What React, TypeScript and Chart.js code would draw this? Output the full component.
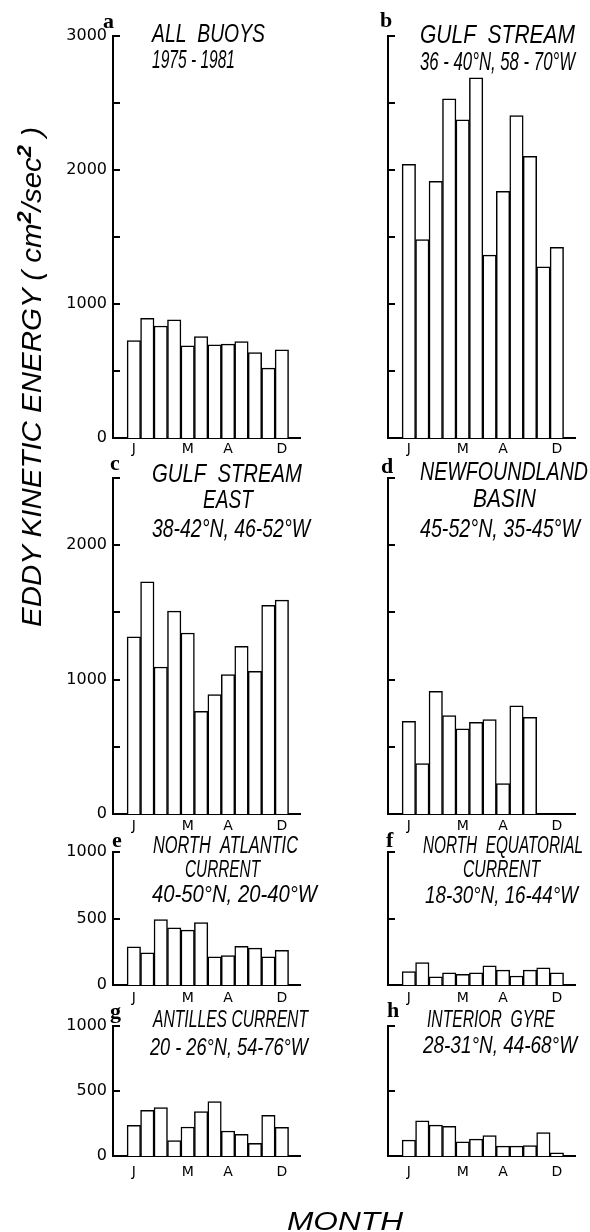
import React, { useEffect, useRef } from 'react';
import { Chart, registerables } from 'chart.js';

Chart.register(...registerables);

// Month initials along the x axis; only a few of them are printed.
const MONTH_INITIALS = ['J', 'F', 'M', 'A', 'M', 'J', 'J', 'A', 'S', 'O', 'N', 'D'];
const MONTH_TICKS = [1, 5, 8, 12];

// Monthly eddy kinetic energy (cm²/sec²) per region, January to December.
const ALL_BUOYS = [727, 893, 836, 881, 687, 757, 695, 700, 720, 638, 521, 658];
const GULF_STREAM = [2042, 1481, 1916, 2531, 2375, 2687, 1365, 1841, 2407, 2102, 1278, 1422];
const GULF_STREAM_EAST = [1318, 1727, 1094, 1509, 1347, 764, 888, 1037, 1248, 1062, 1553, 1591];
const NEWFOUNDLAND_BASIN = [690, 375, 913, 732, 633, 682, 702, 226, 804, 720, null, null];
const NORTH_ATLANTIC_CURRENT = [287, 242, 492, 430, 412, 470, 212, 222, 290, 277, 212, 260];
const NORTH_EQUATORIAL_CURRENT = [100, 168, 62, 92, 80, 92, 145, 112, 68, 112, 130, 92];
const ANTILLES_CURRENT = [236, 351, 372, 118, 223, 341, 418, 192, 167, 97, 313, 221];
const INTERIOR_GYRE = [122, 270, 237, 229, 109, 130, 158, 76, 76, 81, 181, 25];

// Y-axis ranges and label steps per row of panels.
const ROW_MAX = [3000, 2500, 1000, 1000];
const ROW_LABEL_STEP = [1000, 1000, 500, 500];
const Y_TICK_STEP = 500;

// Layout of the grid of panels (page pixels).
const ROWS = [
  { top: 0, padTop: 36, plotH: 402, xAxisH: 22, xPad: 3, titleSize: 25 },
  { top: 452, padTop: 26, plotH: 336, xAxisH: 22, xPad: 4, titleSize: 25 },
  { top: 826, padTop: 26, plotH: 133, xAxisH: 22, xPad: 5, titleSize: 23 },
  { top: 996, padTop: 30, plotH: 130, xAxisH: 28, xPad: 8, titleSize: 23 },
];
const COLS = [
  { left: 50, width: 270, padRight: 20, showLabels: true },
  { left: 325, width: 265, padRight: 15, showLabels: false },
];
const Y_AXIS_W = 63;
const X_MIN = -0.55;
const X_MAX = 13.35;

type TitleLine = { text: string; x: number; y: number; w: number };
type Panel = {
  letter: string;
  letterPos: [number, number];
  values: (number | null)[];
  row: number;
  col: number;
  lines: TitleLine[];
};

const PANELS: Panel[] = [
  {
    letter: 'a', letterPos: [103, 28], values: ALL_BUOYS, row: 0, col: 0,
    lines: [
      { text: 'ALL  BUOYS', x: 152, y: 42, w: 113 },
      { text: '1975 - 1981', x: 152, y: 68, w: 83 },
    ],
  },
  {
    letter: 'b', letterPos: [380, 27], values: GULF_STREAM, row: 0, col: 1,
    lines: [
      { text: 'GULF  STREAM', x: 420, y: 43, w: 155 },
      { text: '36 - 40°N, 58 - 70°W', x: 420, y: 70, w: 155 },
    ],
  },
  {
    letter: 'c', letterPos: [110, 470], values: GULF_STREAM_EAST, row: 1, col: 0,
    lines: [
      { text: 'GULF  STREAM', x: 152, y: 482, w: 150 },
      { text: 'EAST', x: 203, y: 508, w: 50 },
      { text: '38-42°N, 46-52°W', x: 152, y: 537, w: 158 },
    ],
  },
  {
    letter: 'd', letterPos: [381, 473], values: NEWFOUNDLAND_BASIN, row: 1, col: 1,
    lines: [
      { text: 'NEWFOUNDLAND', x: 420, y: 480, w: 168 },
      { text: 'BASIN', x: 473, y: 507, w: 63 },
      { text: '45-52°N, 35-45°W', x: 420, y: 537, w: 160 },
    ],
  },
  {
    letter: 'e', letterPos: [112, 847], values: NORTH_ATLANTIC_CURRENT, row: 2, col: 0,
    lines: [
      { text: 'NORTH  ATLANTIC', x: 153, y: 853, w: 145 },
      { text: 'CURRENT', x: 185, y: 877, w: 75 },
      { text: '40-50°N, 20-40°W', x: 152, y: 902, w: 165 },
    ],
  },
  {
    letter: 'f', letterPos: [386, 847], values: NORTH_EQUATORIAL_CURRENT, row: 2, col: 1,
    lines: [
      { text: 'NORTH  EQUATORIAL', x: 423, y: 853, w: 160 },
      { text: 'CURRENT', x: 463, y: 877, w: 77 },
      { text: '18-30°N, 16-44°W', x: 425, y: 903, w: 153 },
    ],
  },
  {
    letter: 'g', letterPos: [110, 1018], values: ANTILLES_CURRENT, row: 3, col: 0,
    lines: [
      { text: 'ANTILLES CURRENT', x: 153, y: 1027, w: 155 },
      { text: '20 - 26°N, 54-76°W', x: 150, y: 1055, w: 158 },
    ],
  },
  {
    letter: 'h', letterPos: [387, 1017], values: INTERIOR_GYRE, row: 3, col: 1,
    lines: [
      { text: 'INTERIOR  GYRE', x: 427, y: 1027, w: 128 },
      { text: '28-31°N, 44-68°W', x: 423, y: 1053, w: 154 },
    ],
  },
];

function PanelChart({ panel }: { panel: Panel }) {
  const ref = useRef<HTMLCanvasElement | null>(null);
  const row = ROWS[panel.row];
  const col = COLS[panel.col];
  const height = row.padTop + row.plotH + row.xAxisH;

  useEffect(() => {
    if (!ref.current) return;
    const yMax = ROW_MAX[panel.row];
    const labelStep = ROW_LABEL_STEP[panel.row];

    // Short inward tick marks on the y axis.
    const tickMarks = {
      id: 'tickMarks',
      afterDraw(chart: any) {
        const ys = chart.scales.y;
        const ctx = chart.ctx;
        const x0 = chart.chartArea.left;
        ctx.save();
        ctx.strokeStyle = '#000';
        ctx.lineWidth = 2;
        ys.ticks.forEach((t: any) => {
          if (t.value === 0) return;
          const py = Math.round(ys.getPixelForValue(t.value));
          ctx.beginPath();
          ctx.moveTo(x0 - 1, py);
          ctx.lineTo(x0 + 7, py);
          ctx.stroke();
        });
        ctx.restore();
      },
    };

    // Panel letter and the region name lines.
    const titles = {
      id: 'panelTitles',
      afterDraw(chart: any) {
        const ctx = chart.ctx;
        ctx.save();
        ctx.fillStyle = '#000';
        ctx.textBaseline = 'alphabetic';
        ctx.textAlign = 'left';
        ctx.font = 'bold 22px "Liberation Serif"';
        ctx.fillText(panel.letter, panel.letterPos[0] - col.left, panel.letterPos[1] - row.top);
        ctx.font = `italic ${row.titleSize}px "Liberation Sans"`;
        panel.lines.forEach((ln) => {
          const natural = ctx.measureText(ln.text).width;
          ctx.save();
          ctx.translate(ln.x - col.left, ln.y - row.top);
          ctx.scale(ln.w / natural, 1);
          ctx.fillText(ln.text, 0, 0);
          ctx.restore();
        });
        ctx.restore();
      },
    };

    const chart = new Chart(ref.current, {
      type: 'bar',
      data: {
        datasets: [
          {
            data: panel.values.map((v, i) => ({ x: i + 1, y: v })) as any,
            backgroundColor: '#ffffff',
            borderColor: '#000000',
            borderWidth: 1.5,
            borderSkipped: 'start',
            barPercentage: 1,
            categoryPercentage: 1,
          },
        ],
      },
      options: {
        animation: false,
        responsive: false,
        maintainAspectRatio: false,
        events: [],
        layout: { padding: { top: row.padTop, right: col.padRight, left: 0, bottom: 0 } },
        plugins: {
          legend: { display: false },
          tooltip: { enabled: false },
          title: { display: false },
        },
        scales: {
          x: {
            type: 'linear',
            min: X_MIN,
            max: X_MAX,
            offset: false,
            z: 1,
            grid: { display: false, drawTicks: false },
            border: { display: true, color: '#000', width: 2 },
            afterBuildTicks: (s: any) => {
              s.ticks = MONTH_TICKS.map((v) => ({ value: v }));
            },
            afterFit: (s: any) => {
              s.height = row.xAxisH;
            },
            ticks: {
              autoSkip: false,
              maxRotation: 0,
              padding: row.xPad,
              color: '#000',
              font: { family: 'DejaVu Sans', size: 14 },
              callback: (v: any) => MONTH_INITIALS[Number(v) - 1] ?? '',
            },
          },
          y: {
            type: 'linear',
            min: 0,
            max: yMax,
            z: 1,
            grid: { display: false, drawTicks: false },
            border: { display: true, color: '#000', width: 2 },
            afterFit: (s: any) => {
              s.width = Y_AXIS_W;
            },
            ticks: {
              stepSize: Y_TICK_STEP,
              padding: 6,
              color: '#000',
              font: { family: 'DejaVu Sans', size: 16 },
              callback: (v: any) =>
                col.showLabels && Number(v) % labelStep === 0 ? String(v) : '',
            },
          },
        },
      } as any,
      plugins: [tickMarks, titles],
    });
    return () => chart.destroy();
  }, [panel]);

  return (
    <canvas
      ref={ref}
      width={col.width}
      height={height}
      style={{
        position: 'absolute',
        left: col.left,
        top: row.top,
        width: col.width,
        height,
      }}
    />
  );
}

export default function App() {
  return (
    <div
      style={{
        position: 'absolute',
        left: 0,
        top: 0,
        width: 590,
        height: 1232,
        background: '#fff',
        overflow: 'hidden',
      }}
    >
      {PANELS.map((p) => (
        <PanelChart key={p.letter} panel={p} />
      ))}
      <svg
        width={590}
        height={1232}
        style={{ position: 'absolute', left: 0, top: 0, pointerEvents: 'none' }}
      >
        <text
          transform="translate(41,627) rotate(-90)"
          x={0}
          y={0}
          textLength={500}
          lengthAdjust="spacingAndGlyphs"
          fontFamily="Liberation Sans"
          fontStyle="italic"
          fontSize={27}
          fill="#000"
        >
          EDDY  KINETIC  ENERGY  ( cm
          <tspan dy={-10} fontSize={20} fontWeight="bold">2</tspan>
          <tspan dy={10}>/sec</tspan>
          <tspan dy={-10} fontSize={20} fontWeight="bold">2</tspan>
          <tspan dy={10}> )</tspan>
        </text>
        <text
          x={287}
          y={1230}
          textLength={116}
          lengthAdjust="spacingAndGlyphs"
          fontFamily="Liberation Sans"
          fontStyle="italic"
          fontSize={25}
          fill="#000"
        >
          MONTH
        </text>
      </svg>
    </div>
  );
}
